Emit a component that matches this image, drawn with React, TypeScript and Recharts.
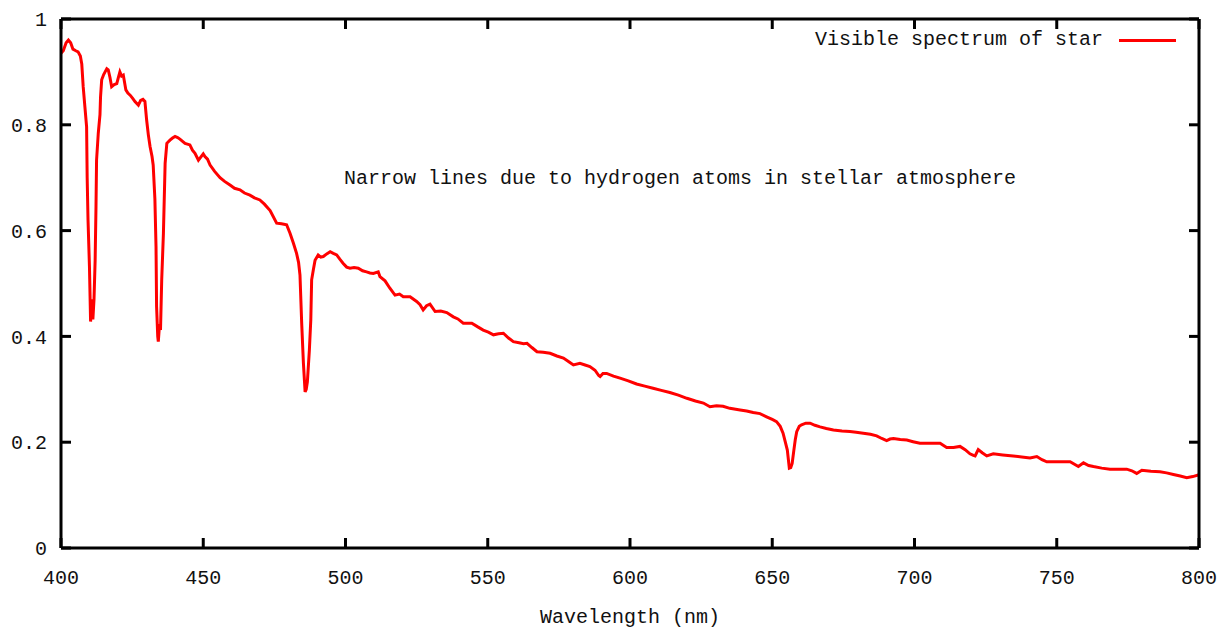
import React from 'react';
import { LineChart, Line, XAxis, YAxis } from 'recharts';

const wavelengths: number[] = [
  400.0, 400.8, 401.8, 402.6, 403.4, 404.2, 405.2, 406.0, 406.8, 407.3, 407.8, 408.4, 409.0, 409.2, 409.5, 410.0,
  410.4, 410.8, 411.2, 411.6, 412.0, 412.3, 412.5, 413.1, 413.7, 413.9, 414.3, 415.0, 415.5, 416.1, 416.6, 417.2,
  417.8, 418.7, 419.6, 420.2, 420.7, 421.3, 421.9, 422.8, 423.5, 424.3, 425.2, 426.0, 427.2, 428.0, 428.8, 429.5,
  430.1, 430.7, 431.3, 432.0, 432.4, 433.0, 433.4, 433.6, 434.0, 434.2, 434.6, 435.0, 435.4, 436.0, 436.6, 437.2,
  438.3, 439.2, 440.1, 441.0, 441.8, 443.6, 445.3, 446.2, 447.1, 448.3, 449.0, 450.0, 450.6, 451.5, 452.4, 454.0,
  455.9, 457.5, 459.4, 461.0, 462.9, 464.5, 466.4, 468.0, 469.9, 471.5, 473.5, 475.8, 477.5, 479.3, 480.5, 481.7,
  482.8, 483.5, 484.0, 484.6, 485.2, 485.8, 486.2, 486.6, 487.3, 487.8, 488.1, 488.7, 489.3, 490.4, 491.3, 492.2,
  493.4, 494.6, 495.7, 496.9, 498.0, 499.2, 500.4, 501.6, 503.0, 504.5, 506.0, 507.4, 508.6, 509.8, 511.5, 512.1,
  513.9, 515.6, 517.4, 519.0, 520.3, 522.7, 525.0, 526.2, 527.3, 528.5, 529.7, 531.5, 533.5, 535.6, 537.9, 539.5,
  541.4, 544.4, 546.5, 548.4, 550.2, 552.0, 553.8, 555.5, 557.3, 559.0, 561.0, 562.6, 563.8, 565.5, 567.3, 569.5,
  571.9, 574.3, 576.6, 578.5, 580.1, 582.4, 584.2, 585.9, 587.7, 589.0, 589.5, 590.5, 591.8, 594.2, 596.5, 599.4,
  602.3, 605.2, 608.1, 611.0, 614.0, 617.0, 620.0, 623.0, 625.8, 628.1, 630.4, 632.7, 635.1, 638.7, 641.0, 643.3,
  645.7, 648.0, 650.0, 651.5, 652.8, 653.8, 654.6, 655.3, 656.0, 656.5, 657.0, 657.6, 658.1, 658.6, 659.5, 660.3,
  661.8, 663.3, 665.0, 666.8, 669.0, 671.5, 674.5, 677.3, 679.5, 682.0, 684.5, 686.7, 688.5, 690.2, 691.4, 692.6,
  695.0, 697.3, 699.5, 701.9, 705.5, 709.0, 711.3, 713.7, 716.0, 717.8, 719.5, 720.7, 721.3, 722.4, 723.8, 725.4,
  727.7, 731.0, 734.7, 737.7, 740.6, 743.0, 744.8, 746.5, 750.6, 754.7, 757.6, 759.4, 761.2, 762.9, 765.8, 768.7,
  771.7, 774.6, 776.4, 778.1, 779.9, 783.1, 786.3, 788.6, 791.0, 793.4, 795.7, 797.8, 799.7, 800.0,
];

const intensity: number[] = [
  0.935, 0.940, 0.955, 0.960, 0.955, 0.943, 0.940, 0.938, 0.930, 0.915, 0.872, 0.834, 0.796, 0.700, 0.620, 0.532,
  0.428, 0.470, 0.432, 0.470, 0.544, 0.645, 0.733, 0.784, 0.819, 0.853, 0.885, 0.895, 0.900, 0.906, 0.904, 0.890,
  0.872, 0.876, 0.878, 0.890, 0.900, 0.892, 0.894, 0.866, 0.860, 0.856, 0.850, 0.844, 0.837, 0.846, 0.848, 0.844,
  0.809, 0.781, 0.759, 0.740, 0.724, 0.660, 0.570, 0.456, 0.400, 0.390, 0.420, 0.418, 0.507, 0.595, 0.727, 0.765,
  0.771, 0.775, 0.778, 0.776, 0.773, 0.765, 0.762, 0.752, 0.746, 0.733, 0.738, 0.745, 0.740, 0.735, 0.724, 0.712,
  0.700, 0.693, 0.686, 0.680, 0.677, 0.671, 0.667, 0.662, 0.658, 0.650, 0.638, 0.614, 0.613, 0.611, 0.595, 0.576,
  0.557, 0.540, 0.516, 0.425, 0.350, 0.295, 0.300, 0.314, 0.374, 0.431, 0.507, 0.526, 0.544, 0.554, 0.550, 0.551,
  0.556, 0.560, 0.557, 0.554, 0.546, 0.538, 0.531, 0.529, 0.530, 0.529, 0.524, 0.522, 0.520, 0.519, 0.522, 0.513,
  0.505, 0.491, 0.478, 0.480, 0.475, 0.475, 0.466, 0.460, 0.450, 0.458, 0.461, 0.447, 0.448, 0.445, 0.437, 0.433,
  0.425, 0.425, 0.418, 0.412, 0.408, 0.403, 0.405, 0.406, 0.397, 0.390, 0.388, 0.386, 0.387, 0.379, 0.371, 0.370,
  0.368, 0.363, 0.359, 0.352, 0.346, 0.349, 0.346, 0.343, 0.336, 0.326, 0.324, 0.330, 0.330, 0.325, 0.321, 0.316,
  0.310, 0.306, 0.302, 0.298, 0.294, 0.289, 0.283, 0.278, 0.274, 0.267, 0.269, 0.268, 0.264, 0.261, 0.259, 0.256,
  0.254, 0.248, 0.243, 0.239, 0.230, 0.217, 0.200, 0.185, 0.151, 0.152, 0.160, 0.185, 0.205, 0.220, 0.230, 0.233,
  0.236, 0.236, 0.232, 0.229, 0.226, 0.223, 0.221, 0.220, 0.219, 0.217, 0.215, 0.212, 0.207, 0.203, 0.206, 0.207,
  0.205, 0.204, 0.201, 0.198, 0.198, 0.198, 0.190, 0.190, 0.192, 0.186, 0.178, 0.175, 0.174, 0.186, 0.180, 0.174,
  0.178, 0.176, 0.174, 0.172, 0.170, 0.173, 0.167, 0.163, 0.163, 0.163, 0.154, 0.161, 0.156, 0.154, 0.151, 0.149,
  0.149, 0.149, 0.146, 0.141, 0.147, 0.145, 0.144, 0.142, 0.139, 0.136, 0.133, 0.135, 0.138, 0.138,
];

const xTicks: number[] = [400, 450, 500, 550, 600, 650, 700, 750, 800];
const yTicks: number[] = [0, 0.2, 0.4, 0.6, 0.8, 1];

const seriesName = 'Visible spectrum of star';
const annotation = 'Narrow lines due to hydrogen atoms in stellar atmosphere';
const xLabel = 'Wavelength (nm)';

const data = wavelengths.map((wl, i) => ({ wl, v: intensity[i] }));

const FONT = '"Liberation Mono", "DejaVu Sans Mono", monospace';
const TICK_LEN = 10;
const TICK_W = 3;
const X_MARGIN = 22;
const Y_MARGIN = 14;

const W = 1220;
const H = 623;

function BottomTick(props: any) {
  const x = Number(props.x);
  const y = Number(props.y);
  const axisY = y - X_MARGIN;
  return (
    <g>
      <path d={`M${x},${axisY}L${x},${axisY - TICK_LEN}`} stroke="#000" strokeWidth={TICK_W} fill="none" />
      <text x={x} y={y} dy="0.71em" textAnchor="middle" fontFamily={FONT} fontSize={20} fill="#111">
        {String(props.payload.value)}
      </text>
    </g>
  );
}

function LeftTick(props: any) {
  const x = Number(props.x);
  const y = Number(props.y);
  const axisX = x + Y_MARGIN;
  return (
    <g>
      <path d={`M${axisX},${y}L${axisX + TICK_LEN},${y}`} stroke="#000" strokeWidth={TICK_W} fill="none" />
      <text x={x} y={y} dy="0.36em" textAnchor="end" fontFamily={FONT} fontSize={20} fill="#111">
        {String(props.payload.value)}
      </text>
    </g>
  );
}

function TopTick(props: any) {
  const x = Number(props.x);
  const y = Number(props.y);
  return <path d={`M${x},${y}L${x},${y + TICK_LEN}`} stroke="#000" strokeWidth={TICK_W} fill="none" />;
}

function RightTick(props: any) {
  const x = Number(props.x);
  const y = Number(props.y);
  return <path d={`M${x},${y}L${x - TICK_LEN},${y}`} stroke="#000" strokeWidth={TICK_W} fill="none" />;
}

const axisLineStyle = { stroke: '#000', strokeWidth: 3 };

export default function App() {
  return (
    <div style={{ position: 'relative', width: W, height: H, background: '#fff' }}>
      <LineChart width={W} height={H} data={data} margin={{ top: 10, right: 28, bottom: 0, left: 0 }}>
        <XAxis
          dataKey="wl"
          type="number"
          domain={[400, 800]}
          ticks={xTicks}
          allowDataOverflow
          height={83}
          tickSize={0}
          tickMargin={X_MARGIN}
          tickLine={false}
          tick={(p: any) => <BottomTick {...p} />}
          axisLine={axisLineStyle}
          label={{ value: xLabel, position: 'insideBottom', offset: 8, style: { fontFamily: FONT, fontSize: 20, fill: '#111' } }}
        />
        <XAxis
          xAxisId="top"
          dataKey="wl"
          type="number"
          orientation="top"
          domain={[400, 800]}
          ticks={xTicks}
          allowDataOverflow
          height={1}
          tickSize={0}
          tickMargin={0}
          tickLine={false}
          tick={(p: any) => <TopTick {...p} />}
          axisLine={axisLineStyle}
        />
        <YAxis
          type="number"
          domain={[0, 1]}
          ticks={yTicks}
          allowDataOverflow
          width={53}
          tickSize={0}
          tickMargin={Y_MARGIN}
          tickLine={false}
          tick={(p: any) => <LeftTick {...p} />}
          axisLine={axisLineStyle}
        />
        <YAxis
          yAxisId="right"
          type="number"
          orientation="right"
          domain={[0, 1]}
          ticks={yTicks}
          allowDataOverflow
          width={1}
          tickSize={0}
          tickMargin={0}
          tickLine={false}
          tick={(p: any) => <RightTick {...p} />}
          axisLine={axisLineStyle}
        />
        <Line
          type="linear"
          dataKey="v"
          name={seriesName}
          stroke="#ff0000"
          strokeWidth={3}
          dot={false}
          activeDot={false}
          isAnimationActive={false}
        />
        <Line
          type="linear"
          dataKey="v"
          xAxisId="top"
          yAxisId="right"
          stroke="none"
          dot={false}
          activeDot={false}
          legendType="none"
          isAnimationActive={false}
        />
      </LineChart>
      <div
        style={{
          position: 'absolute',
          left: 336,
          top: 161,
          fontFamily: FONT,
          fontSize: 20,
          lineHeight: '20px',
          color: '#111',
          whiteSpace: 'nowrap',
        }}
      >
        {annotation}
      </div>
      <div
        style={{
          position: 'absolute',
          left: 807,
          top: 22,
          display: 'flex',
          alignItems: 'center',
          fontFamily: FONT,
          fontSize: 20,
          lineHeight: '20px',
          color: '#111',
          whiteSpace: 'nowrap',
        }}
      >
        <span>{seriesName}</span>
        <span style={{ display: 'inline-block', width: 57, height: 3, background: '#ff0000', marginLeft: 16 }} />
      </div>
    </div>
  );
}
